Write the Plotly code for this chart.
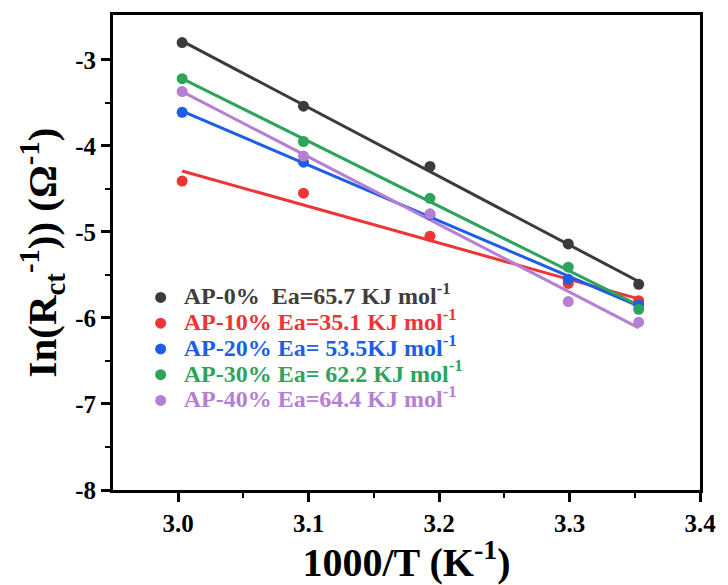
import numpy as np
import plotly.graph_objects as go

x_vals = [3.003, 3.096, 3.193, 3.299, 3.353]
y_ap0 = [-2.80, -3.54, -4.24, -5.14, -5.61]
y_ap10 = [-4.41, -4.55, -5.05, -5.60, -5.80]
y_ap20 = [-3.61, -4.19, -4.80, -5.55, -5.85]
y_ap30 = [-3.22, -3.95, -4.61, -5.41, -5.90]
y_ap40 = [-3.37, -4.12, -4.79, -5.81, -6.05]

labels = ["AP-0%  Ea=65.7 KJ mol<sup>-1</sup>",
          "AP-10% Ea=35.1 KJ mol<sup>-1</sup>",
          "AP-20% Ea= 53.5KJ mol<sup>-1</sup>",
          "AP-30% Ea= 62.2 KJ mol<sup>-1</sup>",
          "AP-40% Ea=64.4 KJ mol<sup>-1</sup>"]
series = [y_ap0, y_ap10, y_ap20, y_ap30, y_ap40]
line_colors = ["#3b3b3b", "#ee3535", "#1c5fe6", "#2ea35c", "#b47fd4"]
text_colors = ["#3e3e3e", "#ee3535", "#1c5fe6", "#2ea35c", "#b47fd4"]

x_ticks = [3.0, 3.1, 3.2, 3.3, 3.4]
y_ticks = [-8, -7, -6, -5, -4, -3]

fig = go.Figure()
xs = np.array(x_vals)
for ys, lc in zip(series, line_colors):
    k, b = np.polyfit(xs, np.array(ys), 1)
    xl = [xs[0], xs[-1]]
    fig.add_trace(go.Scatter(x=xl, y=[k * v + b for v in xl], mode="lines",
                             line=dict(color=lc, width=3), showlegend=False,
                             hoverinfo="skip"))
for ys, lc, tc, lab in zip(series, line_colors, text_colors, labels):
    fig.add_trace(go.Scatter(x=x_vals, y=ys, mode="markers",
                             marker=dict(color=lc, size=11, line=dict(width=0)),
                             name=f"<span style='color:{tc};font-size:24px;font-weight:bold'>{lab}</span>"))

font_family = "Liberation Serif"
fig.update_layout(
    width=728, height=585,
    margin=dict(l=113, r=26, t=15, b=95),
    paper_bgcolor="white", plot_bgcolor="white",
    font=dict(family=font_family, color="black"),
    showlegend=True,
    legend=dict(x=0.042, y=0.443, xanchor="left", yanchor="top",
                bgcolor="rgba(0,0,0,0)", borderwidth=0,
                font=dict(family=font_family, size=17.5),
                tracegroupgap=0, itemwidth=36),
    xaxis=dict(range=[2.95, 3.4], tickvals=x_ticks,
               ticktext=[f"<b>{v:.1f}</b>" for v in x_ticks],
               ticks="outside", ticklen=9, tickwidth=2.5, tickcolor="black",
               minor=dict(ticks="outside", ticklen=5, tickwidth=2, tickcolor="black",
                          tickvals=[3.05, 3.15, 3.25, 3.35]),
               showline=True, linewidth=3, linecolor="black", mirror=True,
               showgrid=False, zeroline=False,
               tickfont=dict(family=font_family, size=25),
               title=dict(text="<b>1000/T (K<sup>-1</sup>)</b>", standoff=6,
                          font=dict(family=font_family, size=40))),
    yaxis=dict(range=[-8, -2.48], tickvals=y_ticks,
               ticktext=[f"<b>-{abs(v)}</b>" for v in y_ticks],
               ticks="outside", ticklen=9, tickwidth=2.5, tickcolor="black",
               minor=dict(ticks="outside", ticklen=5, tickwidth=2, tickcolor="black",
                          tickvals=[-7.5, -6.5, -5.5, -4.5, -3.5]),
               showline=True, linewidth=3, linecolor="black", mirror=True,
               showgrid=False, zeroline=False,
               tickfont=dict(family=font_family, size=25),
               title=dict(text="<b>In(R<sub>ct</sub><sup>-1</sup>)) (Ω<sup>-1</sup>)</b>", standoff=6,
                          font=dict(family=font_family, size=41))),
)

fig.write_html("out.html")
